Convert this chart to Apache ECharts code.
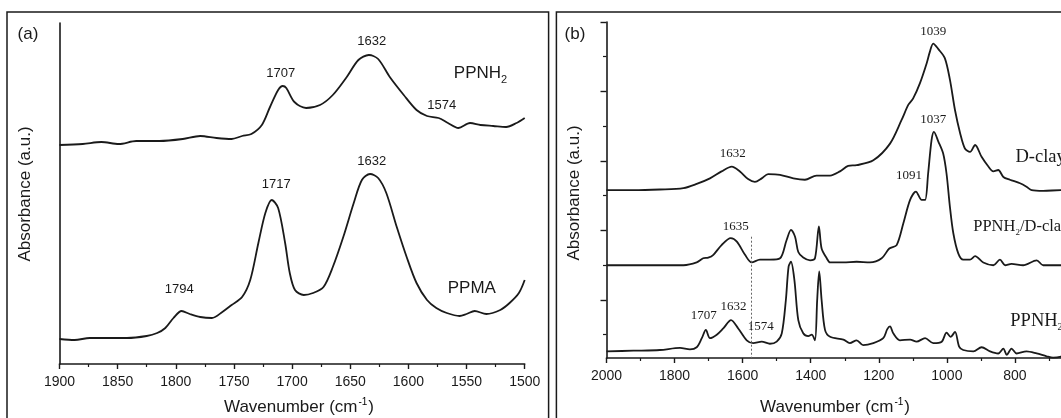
<!DOCTYPE html>
<html><head><meta charset="utf-8">
<script src="https://cdn.jsdelivr.net/npm/echarts@6/dist/echarts.min.js"></script>
<style>html,body{margin:0;padding:0;background:#fff}#c{width:1061px;height:418px}</style>
</head><body><div id="c"></div>
<script>
// ---------- DATA: panel (a) ----------
const wnA_PPNH2 = [1900,1880,1864,1849,1834,1814,1794,1779,1765,1752,1743,1735,1726,1719,1712,1708,1705,1698,1688,1676,1665,1653,1643,1634,1626,1616,1604,1593,1584,1574,1566,1557,1547,1538,1527,1516,1507,1500];
const absA_PPNH2 = [2.19,2.20,2.22,2.20,2.23,2.23,2.25,2.28,2.26,2.25,2.28,2.30,2.39,2.57,2.74,2.78,2.76,2.62,2.56,2.59,2.69,2.87,3.04,3.09,3.05,2.87,2.69,2.54,2.48,2.46,2.41,2.36,2.41,2.39,2.38,2.37,2.41,2.46];
const wnA_PPMA = [1900,1887,1874,1859,1842,1825,1816,1809,1802,1795,1788,1779,1769,1760,1752,1743,1736,1729,1723,1717.5,1712,1706,1702,1697.5,1690,1682,1673,1665,1656,1647,1640,1633,1626,1619,1610,1601.5,1593,1584,1576,1567,1556,1550,1543,1533,1521,1513,1505,1500];
const absA_PPMA = [0.25,0.24,0.26,0.26,0.26,0.28,0.31,0.36,0.46,0.53,0.50,0.47,0.46,0.52,0.59,0.67,0.84,1.21,1.51,1.64,1.56,1.21,0.91,0.74,0.69,0.71,0.77,0.97,1.27,1.61,1.84,1.90,1.86,1.71,1.37,1.07,0.81,0.64,0.56,0.51,0.48,0.50,0.53,0.50,0.54,0.61,0.71,0.84];
const peaksA_PPNH2 = ['1707','1632','1574'];
const peaksA_PPMA = ['1794','1717','1632'];

// ---------- DATA: panel (b) ----------
const wnB_Dclay = [2000,1921,1843,1774,1735,1696,1662,1632,1608,1584,1564,1544,1525,1490,1451,1417,1383,1343,1314,1290,1265,1216,1167,1133,1113,1099,1079,1059,1050,1040,1025,1006,991,976,961,947,932,917,898,878,863.5,849,834,815,785,766,751,717,665,620];
const absB_Dclay = [2.58,2.58,2.59,2.61,2.67,2.75,2.85,2.92,2.85,2.74,2.70,2.75,2.81,2.80,2.75,2.73,2.79,2.79,2.85,2.93,2.94,3.01,3.25,3.59,3.81,3.90,4.12,4.41,4.57,4.69,4.61,4.48,4.17,3.73,3.40,3.18,3.13,3.23,3.06,2.92,2.85,2.87,2.77,2.73,2.68,2.63,2.58,2.57,2.58,2.58];
const wnB_Mix = [2000,1872,1774,1735,1716,1701,1686,1662,1635,1617,1593,1573.5,1549,1520,1490,1471,1458,1446,1436.5,1422,1402,1387.5,1376,1368,1353,1343,1304,1265,1226,1191.5,1169,1147.5,1128,1108,1091,1074,1064,1055,1045,1038,1025,1011,1001,991,981,966.5,952,932,917,893,863.5,844,829,810,776,736,717,665,620];
const absB_Mix = [1.50,1.50,1.50,1.54,1.60,1.61,1.65,1.79,1.89,1.84,1.65,1.54,1.58,1.58,1.60,1.86,2.01,1.91,1.69,1.61,1.57,1.60,2.06,1.74,1.60,1.54,1.54,1.55,1.54,1.60,1.74,1.79,2.10,2.44,2.56,2.44,2.44,2.82,3.30,3.42,3.28,3.11,2.82,2.34,1.96,1.67,1.58,1.58,1.63,1.54,1.50,1.58,1.50,1.52,1.50,1.57,1.50,1.50,1.50];
const wnB_PPNH2 = [2000,1921,1843,1784,1755,1735,1720,1708,1696,1676,1657,1634,1613,1588,1569,1544,1520,1500,1485,1473,1465,1458,1448,1436.5,1422,1407,1397,1387.5,1381,1375,1368,1358,1343,1304,1285,1265,1246,1216,1187,1175,1167,1157.5,1138,1108,1089,1064,1040,1015,1001,989,976,964,952,922,898,873,849,834,824,810,795,766,736,707,688,668,640,620];
const absB_PPNH2 = [0.26,0.27,0.28,0.31,0.29,0.32,0.45,0.57,0.45,0.50,0.59,0.71,0.59,0.42,0.38,0.40,0.37,0.40,0.52,1.00,1.48,1.55,1.29,0.71,0.52,0.48,0.50,0.42,1.00,1.41,1.00,0.57,0.47,0.43,0.38,0.42,0.35,0.38,0.45,0.58,0.62,0.52,0.42,0.43,0.40,0.45,0.38,0.40,0.53,0.47,0.54,0.33,0.28,0.26,0.32,0.26,0.23,0.30,0.21,0.30,0.23,0.26,0.23,0.19,0.17,0.18,0.25,0.21];
const peaksB_Dclay = ['1039','1632'];
const peaksB_Mix = ['1037','1091','1635'];
const peaksB_PPNH2 = ['1707','1632','1574'];
const markerWn = 1574;

// ---------- LAYOUT (label anchor points in data space) ----------
const posA_PPNH2 = [[1709.7,2.91],[1631.6,3.23],[1571.4,2.59]];
const posA_PPMA = [[1797,0.75],[1713.6,1.80],[1631.6,2.03]];
const posB_Dclay = [[1040,4.86],[1629,3.10]];
const posB_Mix = [[1040,3.59],[1111,2.79],[1620,2.06]];
const posB_PPNH2 = [[1714,0.77],[1627,0.90],[1547,0.62]];

const zip = (a,b) => a.map((x,i)=>[x,b[i]]);
const SANS = 'Liberation Sans, Arial, sans-serif';
const SERIF = 'Liberation Serif, Times New Roman, serif';
const INK = '#1a1a1a';

function peakMarks(texts, pos, font, extra) {
  const data = texts.map((t,i)=>({coord:pos[i], value:t,
    label:{formatter:t}}));
  (extra||[]).forEach(e=>data.push(e));
  return {symbol:'circle', symbolSize:1, silent:true,
    itemStyle:{color:'rgba(0,0,0,0)'},
    label:{show:true, position:'inside', color:INK, fontFamily:font, fontSize:13},
    data};
}
function nameMark(coord, fmt, font, size, subSize) {
  return {coord, value:0, label:{formatter:fmt, position:'right', distance:0,
    fontFamily:font, fontSize:size, color:INK,
    rich:{m:{fontFamily:font,fontSize:size,color:INK},
          s:{fontFamily:font,fontSize:subSize,color:INK,padding:[13,0,0,0]}}}};
}

const lineStyle = {color:INK, width:1.8};
const plain = v => String(v);

const option = {
  backgroundColor:'#fff',
  animation:false,
  grid:[
    {left:59.5, top:23, width:465.2, height:341, outerBoundsMode:'none', containLabel:false},
    {left:606.5, top:22, width:476.5, height:336, outerBoundsMode:'none', containLabel:false}
  ],
  xAxis:[
    {gridIndex:0, type:'value', min:1500, max:1900, interval:50, inverse:true,
     axisLine:{show:true, onZero:false, lineStyle:{color:INK,width:1.6}},
     axisTick:{show:true, length:5, lineStyle:{color:INK,width:1.4}},
     minorTick:{show:true, splitNumber:2, length:3, lineStyle:{color:INK,width:1.2}},
     splitLine:{show:false},
     axisLabel:{margin:11, fontSize:14, fontFamily:SANS, color:INK, formatter:plain}},
    {gridIndex:1, type:'value', min:600, max:2000, interval:200, inverse:true,
     axisLine:{show:true, onZero:false, lineStyle:{color:INK,width:1.6}},
     axisTick:{show:true, length:5, lineStyle:{color:INK,width:1.4}},
     minorTick:{show:true, splitNumber:2, length:3, lineStyle:{color:INK,width:1.2}},
     splitLine:{show:false},
     axisLabel:{margin:11, fontSize:14, fontFamily:SANS, color:INK, formatter:v => v===600 ? '' : String(v)}}
  ],
  yAxis:[
    {gridIndex:0, type:'value', min:0, max:3.41, position:'left',
     axisLine:{show:true, onZero:false, lineStyle:{color:INK,width:1.6}},
     axisTick:{show:false}, axisLabel:{show:false}, splitLine:{show:false}},
    {gridIndex:1, type:'value', min:0.165, max:5, position:'left',
     axisLine:{show:true, onZero:false, lineStyle:{color:INK,width:1.6}},
     axisTick:{show:true, length:6, customValues:[1,2,3,4,5], lineStyle:{color:INK,width:1.4}},
     axisLabel:{show:false}, splitLine:{show:false}},
    {gridIndex:1, type:'value', min:0.165, max:5, position:'left', offset:0,
     axisLine:{show:false, onZero:false},
     axisTick:{show:true, length:3.5, customValues:[0.5,1.5,2.5,3.5,4.5], lineStyle:{color:INK,width:1.2}},
     axisLabel:{show:false}, splitLine:{show:false}}
  ],
  series:[
    {type:'line', xAxisIndex:0, yAxisIndex:0, data:zip(wnA_PPNH2,absA_PPNH2), showSymbol:false, smooth:0.3, lineStyle, silent:true,
     markPoint:peakMarks(peaksA_PPNH2, posA_PPNH2, SANS, [nameMark([1561.4,2.91],'{m|PPNH}{s|2}',SANS,17,11)])},
    {type:'line', xAxisIndex:0, yAxisIndex:0, data:zip(wnA_PPMA,absA_PPMA), showSymbol:false, smooth:0.3, lineStyle, silent:true,
     markPoint:peakMarks(peaksA_PPMA, posA_PPMA, SANS, [nameMark([1566.6,0.76],'{m|PPMA}',SANS,17,11)])},
    {type:'line', xAxisIndex:1, yAxisIndex:1, data:zip(wnB_Dclay,absB_Dclay), showSymbol:false, smooth:0.3, lineStyle, silent:true,
     markPoint:peakMarks(peaksB_Dclay, posB_Dclay, SERIF, [nameMark([800,3.06],'{m|D-clay}',SERIF,18.5,10)])},
    {type:'line', xAxisIndex:1, yAxisIndex:1, data:zip(wnB_Mix,absB_Mix), showSymbol:false, smooth:0.3, lineStyle, silent:true,
     markPoint:peakMarks(peaksB_Mix, posB_Mix, SERIF, [nameMark([924,2.06],'{m|PPNH}{s|2}{m|/D-clay}',SERIF,16.5,9)]),
     markLine:{silent:true, symbol:'none', label:{show:false},
       lineStyle:{color:'#666', width:1, type:[2,2]},
       data:[[{coord:[markerWn,1.91]},{coord:[markerWn,0.165]}]]}},
    {type:'line', xAxisIndex:1, yAxisIndex:1, data:zip(wnB_PPNH2,absB_PPNH2), showSymbol:false, smooth:0.3, lineStyle, silent:true,
     markPoint:peakMarks(peaksB_PPNH2, posB_PPNH2, SERIF, [nameMark([815,0.70],'{m|PPNH}{s|2}',SERIF,18.5,10)])}
  ],
  graphic:[
    {type:'rect', shape:{x:7, y:12, width:541.6, height:430}, style:{fill:'none', stroke:INK, lineWidth:1.5}, silent:true},
    {type:'rect', shape:{x:556.4, y:12, width:530, height:430}, style:{fill:'none', stroke:INK, lineWidth:1.5}, silent:true},
    {type:'text', x:28, y:34, style:{text:'(a)', font:'17px '+SANS, fill:INK, align:'center', verticalAlign:'middle'}},
    {type:'text', x:575, y:34, style:{text:'(b)', font:'17px '+SANS, fill:INK, align:'center', verticalAlign:'middle'}},
    {type:'text', x:25, y:194, rotation:Math.PI/2, style:{text:'Absorbance (a.u.)', font:'17px '+SANS, fill:INK, align:'center', verticalAlign:'middle'}},
    {type:'text', x:574, y:193, rotation:Math.PI/2, style:{text:'Absorbance (a.u.)', font:'17px '+SANS, fill:INK, align:'center', verticalAlign:'middle'}},
    {type:'text', x:299, y:407, style:{text:'{m|Wavenumber (cm}{p|-1}{m|)}', align:'center', verticalAlign:'middle',
      rich:{m:{fontFamily:SANS,fontSize:17,fill:INK,color:INK}, p:{fontFamily:SANS,fontSize:10,color:INK,padding:[0,1,10,1]}}}},
    {type:'text', x:835, y:407, style:{text:'{m|Wavenumber (cm}{p|-1}{m|)}', align:'center', verticalAlign:'middle',
      rich:{m:{fontFamily:SANS,fontSize:17,fill:INK,color:INK}, p:{fontFamily:SANS,fontSize:10,color:INK,padding:[0,1,10,1]}}}}
  ]
};
const chart = echarts.init(document.getElementById('c'), null, {renderer:'canvas'});
chart.setOption(option);
</script>
</body></html>
